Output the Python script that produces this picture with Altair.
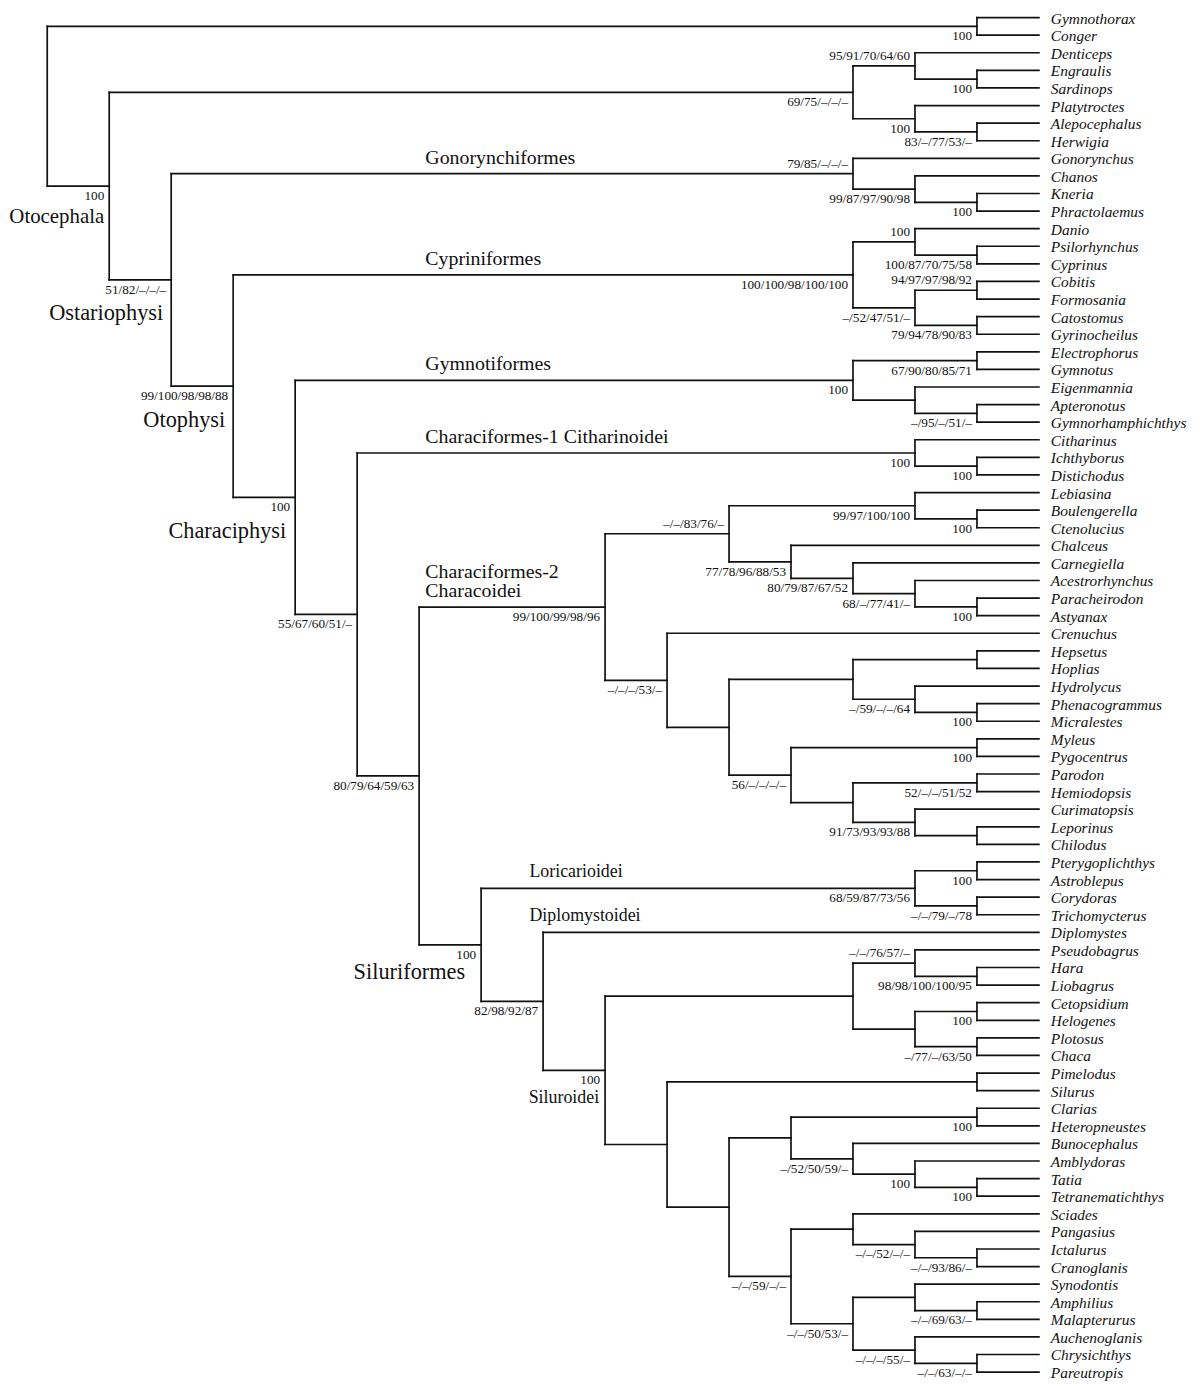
import altair as alt
import pandas as pd

# ---------------- data: tree topology (Newick pieces) with support values ----------------
ANGUILLIFORMES = "(Gymnothorax,Conger)100"
ALEPO_CLUPEO = ("((Denticeps,(Engraulis,Sardinops)100)95/91/70/64/60,"
                "(Platytroctes,(Alepocephalus,Herwigia)83/–/77/53/–)100)69/75/–/–/–")
GONORYNCHIFORMES = "(Gonorynchus,(Chanos,(Kneria,Phractolaemus)100)99/87/97/90/98)79/85/–/–/–"
CYPRINIFORMES = ("((Danio,(Psilorhynchus,Cyprinus)100/87/70/75/58)100,"
                 "((Cobitis,Formosania)94/97/97/98/92,(Catostomus,Gyrinocheilus)79/94/78/90/83)–/52/47/51/–)"
                 "100/100/98/100/100")
GYMNOTIFORMES = ("((Electrophorus,Gymnotus)67/90/80/85/71,"
                 "(Eigenmannia,(Apteronotus,Gymnorhamphichthys)–/95/–/51/–))100")
CITHARINOIDEI = "(Citharinus,(Ichthyborus,Distichodus)100)100"
CHARACOIDEI_A = ("((Lebiasina,(Boulengerella,Ctenolucius)100)99/97/100/100,"
                 "(Chalceus,(Carnegiella,(Acestrorhynchus,(Paracheirodon,Astyanax)100)68/–/77/41/–)"
                 "80/79/87/67/52)77/78/96/88/53)–/–/83/76/–")
CHARACOIDEI_B = ("(Crenuchus,(((Hepsetus,Hoplias),(Hydrolycus,(Phenacogrammus,Micralestes)100)–/59/–/–/64),"
                 "((Myleus,Pygocentrus)100,((Parodon,Hemiodopsis)52/–/–/51/52,"
                 "(Curimatopsis,(Leporinus,Chilodus))91/73/93/93/88))56/–/–/–/–))–/–/–/53/–")
LORICARIOIDEI = "((Pterygoplichthys,Astroblepus)100,(Corydoras,Trichomycterus)–/–/79/–/78)68/59/87/73/56"
SILUROIDEI_A = ("((Pseudobagrus,(Hara,Liobagrus)98/98/100/100/95)–/–/76/57/–,"
                "((Cetopsidium,Helogenes)100,(Plotosus,Chaca)–/77/–/63/50))")
SILUROIDEI_B = ("((Clarias,Heteropneustes)100,"
                "(Bunocephalus,(Amblydoras,(Tatia,Tetranematichthys)100)100)–/52/50/59/–)")
SILUROIDEI_C = ("((Sciades,(Pangasius,(Ictalurus,Cranoglanis)–/–/93/86/–)–/–/52/–/–),"
                "((Synodontis,(Amphilius,Malapterurus)–/–/69/63/–),"
                "(Auchenoglanis,(Chrysichthys,Pareutropis)–/–/63/–/–)–/–/–/55/–)–/–/50/53/–)–/–/59/–/–")

SILUROIDEI = f"({SILUROIDEI_A},((Pimelodus,Silurus),({SILUROIDEI_B},{SILUROIDEI_C})))100"
SILURIFORMES = f"({LORICARIOIDEI},(Diplomystes,{SILUROIDEI})82/98/92/87)100"
CHARACOIDEI = f"({CHARACOIDEI_A},{CHARACOIDEI_B})99/100/99/98/96"
CHARACIPHYSI = (f"({GYMNOTIFORMES},({CITHARINOIDEI},({CHARACOIDEI},{SILURIFORMES})"
                f"80/79/64/59/63)55/67/60/51/–)100")
OTOPHYSI = f"({CYPRINIFORMES},{CHARACIPHYSI})99/100/98/98/88"
OSTARIOPHYSI = f"({GONORYNCHIFORMES},{OTOPHYSI})51/82/–/–/–"
TREE = f"({ANGUILLIFORMES},({ALEPO_CLUPEO},{OSTARIOPHYSI})100);"

# support labels drawn above the node (node given by first and last leaf)
ABOVE_FIRST = ["Denticeps", "Gonorynchus", "Danio", "Cobitis", "Lebiasina", "Pseudobagrus"]
ABOVE_LAST = ["Sardinops", "Phractolaemus", "Cyprinus", "Formosania", "Astyanax", "Liobagrus"]

# large group names at nodes
GROUP_NAMES = ["Otocephala", "Ostariophysi", "Otophysi", "Characiphysi", "Siluriformes", "Siluroidei"]
GROUP_FIRST = ["Denticeps", "Gonorynchus", "Danio", "Electrophorus", "Pterygoplichthys", "Pseudobagrus"]
GROUP_LAST = ["Pareutropis"] * 6

# clade names written above branches
CLADE_NAMES = ["Gonorynchiformes", "Cypriniformes", "Gymnotiformes", "Characiformes-1 Citharinoidei",
               "Characiformes-2", "Characoidei", "Loricarioidei", "Diplomystoidei"]
CLADE_FIRST = ["Gonorynchus", "Danio", "Electrophorus", "Citharinus", "Lebiasina", "Lebiasina",
               "Pterygoplichthys", "Diplomystes"]
CLADE_LAST = ["Phractolaemus", "Gyrinocheilus", "Gymnorhamphichthys", "Distichodus", "Chilodus", "Chilodus",
              "Trichomycterus", "Diplomystes"]
CLADE_LINE = [0, 0, 0, 0, 1, 0, 0, 0]

# ---------------- styles ----------------
FONT = "Liberation Serif"
INK = "#111111"
GROUP_STYLE = {
    "Otocephala": dict(size=21, dx=-5, dy=31),
    "Ostariophysi": dict(size=22.5, dx=-8, dy=33),
    "Otophysi": dict(size=22.5, dx=-8, dy=34),
    "Characiphysi": dict(size=22.5, dx=-9, dy=34),
    "Siluriformes": dict(size=22.5, dx=-16, dy=27),
    "Siluroidei": dict(size=18, dx=-6, dy=28),
}
CLADE_ANCHOR = {"major": 6.1, "minor": 7.78}   # in tree-level units
CLADE_SIZE = {"major": 20, "minor": 18}


# ---------------- parse & lay out ----------------
def parse(s):
    pos = 0

    def read_label():
        nonlocal pos
        start = pos
        while pos < len(s) and s[pos] not in ",();":
            pos += 1
        return s[start:pos].strip()

    def node():
        nonlocal pos
        if s[pos] == "(":
            pos += 1
            kids = [node()]
            while s[pos] == ",":
                pos += 1
                kids.append(node())
            pos += 1  # ')'
            return {"children": kids, "support": read_label()}
        return {"children": [], "name": read_label(), "support": ""}

    return node()


root = parse(TREE)
leaves = []
internal = []


def layout(n):
    if not n["children"]:
        n["y"] = len(leaves)
        n["h"] = 0
        n["first"] = n["last"] = n["name"]
        leaves.append(n)
        return
    for c in n["children"]:
        layout(c)
    n["y"] = (n["children"][0]["y"] + n["children"][-1]["y"]) / 2
    n["h"] = 1 + max(c["h"] for c in n["children"])
    n["first"] = n["children"][0]["first"]
    n["last"] = n["children"][-1]["last"]
    internal.append(n)


layout(root)
DEPTH = root["h"]


def walk(n):
    yield n
    for c in n["children"]:
        yield from walk(c)


nodes_by_key = {}
for n in walk(root):
    n["lvl"] = DEPTH - n["h"]
    nodes_by_key[(n["first"], n["last"])] = n

segs = []
for n in internal:
    kids = n["children"]
    segs.append(dict(x=n["lvl"], x2=n["lvl"], y=kids[0]["y"], y2=kids[-1]["y"]))
    for c in kids:
        segs.append(dict(x=n["lvl"], x2=c["lvl"], y=c["y"], y2=c["y"]))
seg_df = pd.DataFrame(segs)

leaf_df = pd.DataFrame([dict(x=n["lvl"], y=n["y"], text=n["name"]) for n in leaves])

above_keys = set(zip(ABOVE_FIRST, ABOVE_LAST))
sup_rows = [dict(x=n["lvl"], y=n["y"], text=n["support"],
                 above=(n["first"], n["last"]) in above_keys)
            for n in internal if n["support"]]
sup_df = pd.DataFrame(sup_rows)
sup_below = sup_df[~sup_df["above"]].drop(columns="above")
sup_above = sup_df[sup_df["above"]].drop(columns="above")

clade_rows = []
for name, f, l, line in zip(CLADE_NAMES, CLADE_FIRST, CLADE_LAST, CLADE_LINE):
    n = nodes_by_key[(f, l)]
    kind = "minor" if name in ("Loricarioidei", "Diplomystoidei") else "major"
    clade_rows.append(dict(x=CLADE_ANCHOR[kind], y=n["y"], text=name, kind=kind, line=line))
clade_df = pd.DataFrame(clade_rows)

# ---------------- scales (tree level -> px, leaf index -> px) ----------------
W, H = 1184, 1372
X0, STEP = 39.5, 62.4          # plot px of level 0, px per level
Y0, ROW = 5.0, 17.71           # plot px of first leaf, px per leaf
xscale = alt.Scale(domain=[-X0 / STEP, (W - X0) / STEP], range=[0, W], zero=False, nice=False)
yscale = alt.Scale(domain=[-Y0 / ROW, (H - Y0) / ROW], range=[0, H], zero=False, nice=False)

X = alt.X("x:Q", scale=xscale, axis=None)
Y = alt.Y("y:Q", scale=yscale, axis=None)

layers = []
layers.append(alt.Chart(seg_df).mark_rule(color=INK, strokeWidth=1.7, strokeCap="square").encode(
    x=X, x2="x2:Q", y=Y, y2="y2:Q"))

layers.append(alt.Chart(leaf_df).mark_text(
    font=FONT, fontSize=15.5, fontStyle="italic", align="left", baseline="middle",
    dx=12, dy=1, color=INK).encode(x=X, y=Y, text="text:N"))

layers.append(alt.Chart(sup_below).mark_text(
    font=FONT, fontSize=13.3, align="right", baseline="middle", dx=-5, dy=10, color=INK
).encode(x=X, y=Y, text="text:N"))
layers.append(alt.Chart(sup_above).mark_text(
    font=FONT, fontSize=13.3, align="right", baseline="middle", dx=-5, dy=-10, color=INK
).encode(x=X, y=Y, text="text:N"))

for kind in ("major", "minor"):
    for line in (0, 1):
        sub = clade_df[(clade_df["kind"] == kind) & (clade_df["line"] == line)]
        if len(sub) == 0:
            continue
        layers.append(alt.Chart(sub).mark_text(
            font=FONT, fontSize=CLADE_SIZE[kind], align="left", baseline="middle",
            dy=-16 - 19.5 * line, color=INK).encode(x=X, y=Y, text="text:N"))

for name, f, l in zip(GROUP_NAMES, GROUP_FIRST, GROUP_LAST):
    n = nodes_by_key[(f, l)]
    st = GROUP_STYLE[name]
    gdf = pd.DataFrame([dict(x=n["lvl"], y=n["y"], text=name)])
    layers.append(alt.Chart(gdf).mark_text(
        font=FONT, fontSize=st["size"], align="right", baseline="middle",
        dx=st["dx"], dy=st["dy"], color=INK).encode(x=X, y=Y, text="text:N"))

chart = alt.layer(*layers).properties(
    width=W, height=H,
    padding={"left": 0, "top": 0, "right": 8, "bottom": 6},
    autosize=alt.AutoSizeParams(type="none"),
).configure_view(strokeWidth=0)

chart.save("out.html", embed_options={"renderer": "svg", "actions": False})
